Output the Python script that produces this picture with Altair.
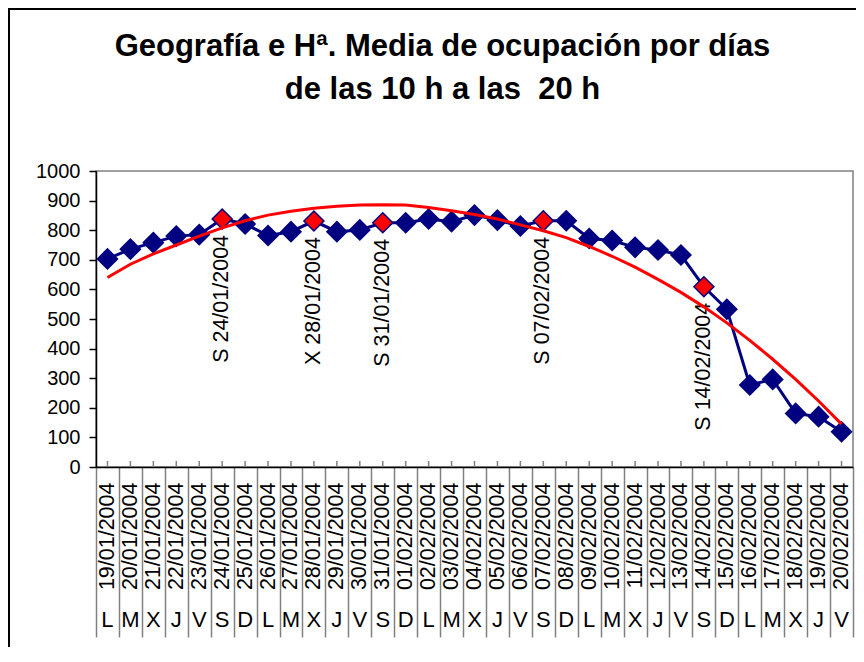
import altair as alt
import pandas as pd

F = "Liberation Sans"

dates = ["19/01/2004", "20/01/2004", "21/01/2004", "22/01/2004", "23/01/2004",
         "24/01/2004", "25/01/2004", "26/01/2004", "27/01/2004", "28/01/2004",
         "29/01/2004", "30/01/2004", "31/01/2004", "01/02/2004", "02/02/2004",
         "03/02/2004", "04/02/2004", "05/02/2004", "06/02/2004", "07/02/2004",
         "08/02/2004", "09/02/2004", "10/02/2004", "11/02/2004", "12/02/2004",
         "13/02/2004", "14/02/2004", "15/02/2004", "16/02/2004", "17/02/2004",
         "18/02/2004", "19/02/2004", "20/02/2004"]
days = ["L", "M", "X", "J", "V", "S", "D", "L", "M", "X", "J", "V", "S", "D",
        "L", "M", "X", "J", "V", "S", "D", "L", "M", "X", "J", "V", "S", "D",
        "L", "M", "X", "J", "V"]
values = [703, 736, 758, 780, 785, 838, 821, 782, 795, 831, 795, 801, 825,
          825, 838, 829, 851, 834, 814, 832, 832, 772, 765, 742, 733, 716,
          609, 533, 277, 296, 181, 170, 119]
trend = [640, 685, 720, 750, 780, 808, 832, 851, 864, 874, 881, 885, 886,
         885, 877, 866, 853, 838, 818, 798, 775, 745, 712, 675, 634, 590,
         541, 487, 428, 364, 296, 223, 145]
marked = ["24/01/2004", "28/01/2004", "31/01/2004", "07/02/2004", "14/02/2004"]

df = pd.DataFrame({"fecha": dates, "dia": days, "media": values, "tendencia": trend})
df["marcado"] = df["fecha"].isin(marked)
df["etiqueta"] = [f"{d} {f}" if f in marked else "" for d, f in zip(days, dates)]

W, H = 757, 296

x_axis = alt.Axis(title=None, labelAngle=270, labelAlign="right", labelBaseline="middle",
                  labelFontSize=21.5, labelFont=F, labelColor="black", labelPadding=-155,
                  tickBand="extent", tickSize=170, tickColor="#808080", tickWidth=1.5,
                  domainColor="black", domainWidth=1.5, labelOverlap=False)
y_axis = alt.Axis(title=None, values=list(range(0, 1001, 100)), format="d", grid=False,
                  labelFontSize=20, labelFont=F, labelColor="black", labelPadding=9,
                  tickSize=7, tickColor="black", tickWidth=1.5,
                  domainColor="black", domainWidth=1.5)
xs = alt.Scale(type="band", paddingInner=0, paddingOuter=0)
ys = alt.Scale(domain=[0, 1000])

x = alt.X("fecha:N", sort=dates, scale=xs, axis=x_axis)
y = alt.Y("media:Q", scale=ys, axis=y_axis)
yt = alt.Y("tendencia:Q", scale=ys, axis=y_axis)

base = alt.Chart(df)

one = alt.Data(values=[{"k": 1}])
frame_left = alt.Chart(one).mark_rule(color="black", strokeWidth=2).encode(
    x=alt.value(-87), y=alt.value(-163), y2=alt.value(H + 180))
frame_top = alt.Chart(one).mark_rule(color="black", strokeWidth=2).encode(
    x=alt.value(-88), x2=alt.value(W + 3), y=alt.value(-162))

center_ticks = base.mark_rule(color="#808080", strokeWidth=1.5).encode(
    x=x, y=alt.value(H), y2=alt.value(H - 6))

line = base.mark_line(color="#000080", strokeWidth=3).encode(x=x, y=y)
pts = base.mark_point(shape="diamond", filled=True, size=400, stroke="#000080",
                      strokeWidth=1.5, opacity=1).encode(
    x=x, y=y,
    fill=alt.condition(alt.datum.marcado, alt.value("#FF0000"), alt.value("#000080")))
notes = base.transform_filter(alt.datum.marcado).mark_text(
    angle=270, align="right", baseline="middle", dx=-16, fontSize=21.5, font=F,
    color="black").encode(x=x, y=y, text="etiqueta:N")
trend_line = base.mark_line(color="#FF0000", strokeWidth=3).encode(x=x, y=yt)
letters = base.mark_text(fontSize=22, font=F, baseline="middle", color="black").encode(
    x=x, y=alt.value(449), text="dia:N")

chart = alt.layer(frame_left, frame_top, center_ticks, line, pts, notes, trend_line, letters).properties(
    width=W, height=H,
    autosize=alt.AutoSizeParams(type="none"),
    padding={"left": 88, "top": 163, "right": 3, "bottom": 180},
    title=alt.TitleParams(
        ["Geografía e Hª. Media de ocupación por días", "de las 10 h a las \u00a020 h"],
        fontSize=31, font=F, fontWeight="bold", color="black", anchor="middle",
        frame="group", dx=-32, offset=-99, lineHeight=43),
).configure_view(stroke="#808080", strokeWidth=1.5)

chart.save("out.html", embed_options={"renderer": "svg", "actions": False})
